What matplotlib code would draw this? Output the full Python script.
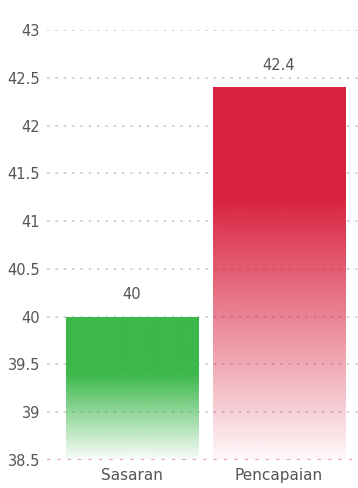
import numpy as np
import matplotlib
matplotlib.use("Agg")
import matplotlib.pyplot as plt
from matplotlib.colors import to_rgb

categories = ["Sasaran", "Pencapaian"]
values = [40.0, 42.4]
bar_colors = ["#3cb84a", "#d92340"]
fade_start = [0.40, 0.30]   # fraction of bar height (from top) that stays solid
y_min, y_max = 38.5, 43.0
y_ticks = [38.5, 39, 39.5, 40, 40.5, 41, 41.5, 42, 42.5, 43]

plt.rcParams['font.family'] = ['DejaVu Sans']

fig = plt.figure(figsize=(3.58, 4.88), dpi=100)
ax = fig.add_axes([47/358, 28/488, 311/358, 430/488])

x = np.arange(len(categories))
bars = ax.bar(x, [v - y_min for v in values], bottom=y_min, width=0.9,
              color='none', edgecolor='none', zorder=2)

for b, col, fs in zip(bars, bar_colors, fade_start):
    x0, y0 = b.get_x(), b.get_y()
    w, h = b.get_width(), b.get_height()
    n = 256
    t = np.linspace(0, 1, n)  # 0 top -> 1 bottom
    alpha = np.where(t < fs, 1.0, 1.0 - (t - fs) / (1 - fs) * 0.97)
    rgb = np.array(to_rgb(col))
    img = np.ones((n, 1, 4))
    img[:, 0, :3] = rgb
    img[:, 0, 3] = alpha
    im = ax.imshow(img, extent=[x0, x0 + w, y0, y0 + h], aspect='auto',
                   origin='upper', zorder=2, interpolation='bilinear')
    im.set_clip_path(b)

for xi, v in zip(x, values):
    ax.text(xi, v + 0.15, f"{v:g}", ha='center', va='bottom', fontsize=10.5,
            color='#555555')

ax.set_xlim(-0.578, 1.538)
ax.set_ylim(y_min, y_max)
ax.set_yticks(y_ticks)
ax.set_yticklabels([f"{t:g}" for t in y_ticks])
ax.set_xticks(x)
ax.set_xticklabels(categories)
ax.tick_params(axis='y', length=0, labelsize=10.5, colors='#555555', pad=5)
ax.tick_params(axis='x', length=0, labelsize=11, colors='#555555', pad=6)

for s in ax.spines.values():
    s.set_visible(False)

for yt in y_ticks:
    if yt == y_min:
        ax.axhline(yt, color='#e39aa6', linestyle=(0, (1.5, 3.5)), linewidth=1.5, zorder=3)
    else:
        ax.axhline(yt, color='#cccccc', linestyle=(0, (1.5, 3.5)), linewidth=1.2, zorder=1)

fig.savefig("out.png", dpi=100)
